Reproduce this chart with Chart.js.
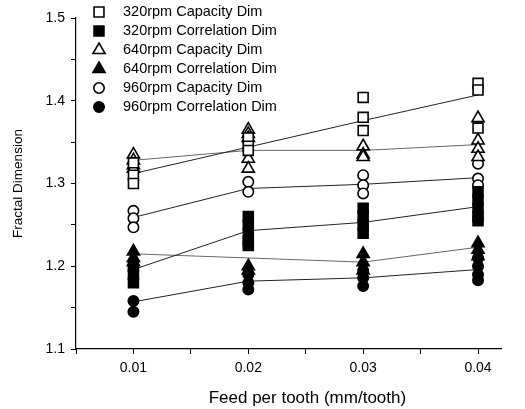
<!DOCTYPE html>
<html>
<head>
<meta charset="utf-8">
<script src="https://cdn.jsdelivr.net/npm/chart.js@4.4.0/dist/chart.umd.min.js"></script>
<style>
html,body{margin:0;padding:0;background:#fff;}
#wrap{width:525px;height:409px;position:relative;}
</style>
</head>
<body>
<div id="wrap"><canvas id="c" width="525" height="409"></canvas></div>
<script>
// Feed per tooth categories (x values)
const feed = [0.01, 0.02, 0.03, 0.04];

// Replicate measurements at each feed (one inner list per feed value)
const cap320  = [[1.325,1.31,1.30],[1.355,1.345,1.34],[1.404,1.38,1.364],[1.421,1.413,1.367]];
const corr320 = [[1.20,1.19,1.18],[1.26,1.25,1.24,1.23,1.225],[1.27,1.26,1.25,1.24],[1.29,1.28,1.27,1.26,1.255]];
const cap640  = [[1.335,1.328,1.322,1.318],[1.365,1.36,1.355,1.33,1.318],[1.345,1.335,1.332],[1.379,1.352,1.342,1.332]];
const corr640 = [[1.218,1.21,1.205],[1.20,1.195],[1.215,1.205,1.195],[1.228,1.22,1.212]];
const cap960  = [[1.267,1.258,1.247],[1.302,1.29],[1.31,1.298,1.288],[1.324,1.306,1.298]];
const corr960 = [[1.158,1.145],[1.19,1.18,1.172],[1.195,1.186,1.176],[1.21,1.20,1.19,1.183]];

// Trend lines (value at each feed)
const line320cap  = [1.312,1.344,1.376,1.407];
const line320corr = [1.196,1.243,1.253,1.272];
const line640cap  = [1.328,1.340,1.340,1.347];
const line640corr = [1.215,1.210,1.205,1.223];
const line960cap  = [1.259,1.294,1.299,1.307];
const line960corr = [1.157,1.182,1.186,1.196];

// Legend labels and axis ticks
const seriesNames = ["320rpm Capacity Dim","320rpm Correlation Dim","640rpm Capacity Dim","640rpm Correlation Dim","960rpm Capacity Dim","960rpm Correlation Dim"];
const yTickLabels = ["1.1","1.2","1.3","1.4","1.5"];
const xTickLabels = ["0.01","0.02","0.03","0.04"];

function pts(arr){ const out=[]; arr.forEach((vals,i)=>vals.forEach(v=>out.push({x:feed[i],y:v}))); return out; }
function linePts(arr){ return arr.map((v,i)=>({x:feed[i],y:v})); }

const styles = [
  {ps:'rect', fill:false, r:7},
  {ps:'rect', fill:true, r:7},
  {ps:'triangle', fill:false, r:7},
  {ps:'triangle', fill:true, r:7},
  {ps:'circle', fill:false, r:5.2},
  {ps:'circle', fill:true, r:5.2}
];
const pointData = [cap320, corr320, cap640, corr640, cap960, corr960];
const lineData = [line320cap, line320corr, line640cap, line640corr, line960cap, line960corr];

const datasets = [];
lineData.forEach((ld,i)=>{
  datasets.push({type:'line', label:'fit'+i, data:linePts(ld), borderColor:(i===2||i===3)?'#666':'#222', borderWidth:1, pointRadius:0, fill:false, order:2});
});
pointData.forEach((pd,i)=>{
  const s = styles[i];
  datasets.push({type:'scatter', label:seriesNames[i], data:pts(pd), pointStyle:s.ps, pointRadius:s.r, pointHoverRadius:s.r,
    backgroundColor:s.fill?'#000':'#fff', borderColor:'#000', pointBorderWidth:1.6, order:1});
});

const legendPlugin = {
  id:'customLegend',
  afterDraw(chart){
    const ctx = chart.ctx;
    ctx.save();
    const x0 = 99, tx = 123, y0 = 12, dy = 19;
    seriesNames.forEach((name,i)=>{
      const s = styles[i];
      const y = y0 + i*dy;
      ctx.fillStyle = s.fill?'#000':'#fff';
      ctx.strokeStyle = '#000';
      ctx.lineWidth = 1.6;
      Chart.helpers.drawPoint(ctx, {pointStyle:s.ps, radius:s.r, rotation:0, borderWidth:1.6}, x0, y);
      ctx.fillStyle = '#000';
      ctx.font = '14.5px "Liberation Sans", Arial, sans-serif';
      ctx.textBaseline = 'middle';
      ctx.textAlign = 'left';
      ctx.fillText(name, tx, y);
    });
    ctx.restore();
  }
};

const isMult = (v, step) => Math.abs(v/step - Math.round(v/step)) < 1e-6;

new Chart(document.getElementById('c'), {
  type:'scatter',
  data:{datasets},
  options:{
    responsive:false,
    animation:false,
    layout:{padding:{left:0,right:24,top:18,bottom:0}},
    plugins:{legend:{display:false}, tooltip:{enabled:false}},
    scales:{
      x:{
        type:'linear', min:0.005, max:0.042,
        afterFit(s){ s.height = 60; },
        ticks:{stepSize:0.005, includeBounds:false, padding:6, color:'#000', maxRotation:0, autoSkip:false,
          font:{family:'"Liberation Sans", Arial, sans-serif', size:14},
          callback(v){ if(!isMult(v,0.01)) return ''; const i=Math.round(v*100)-1; return xTickLabels[i]||''; }},
        grid:{display:true, drawOnChartArea:false, drawTicks:true, tickLength:5, color:'#000', lineWidth:1},
        border:{display:true, color:'#000', width:1.2},
        title:{display:true, text:'        Feed per tooth (mm/tooth)', color:'#000', padding:{top:5,bottom:0},
          font:{family:'"Liberation Sans", Arial, sans-serif', size:17}}
      },
      y:{
        type:'linear', min:1.1, max:1.5,
        afterFit(s){ s.width = 76; },
        ticks:{stepSize:0.05, padding:6, color:'#000', autoSkip:false,
          font:{family:'"Liberation Sans", Arial, sans-serif', size:14},
          callback(v){ if(!isMult(v,0.1)) return ''; const i=Math.round((v-1.1)*10); return yTickLabels[i]||''; }},
        grid:{display:true, drawOnChartArea:false, drawTicks:true, tickLength:5, color:'#000', lineWidth:1},
        border:{display:true, color:'#000', width:1.2},
        title:{display:true, text:'Fractal Dimension', color:'#000', padding:{top:10,bottom:0},
          font:{family:'"Liberation Sans", Arial, sans-serif', size:13.5}}
      }
    }
  },
  plugins:[legendPlugin]
});
</script>
</body>
</html>
